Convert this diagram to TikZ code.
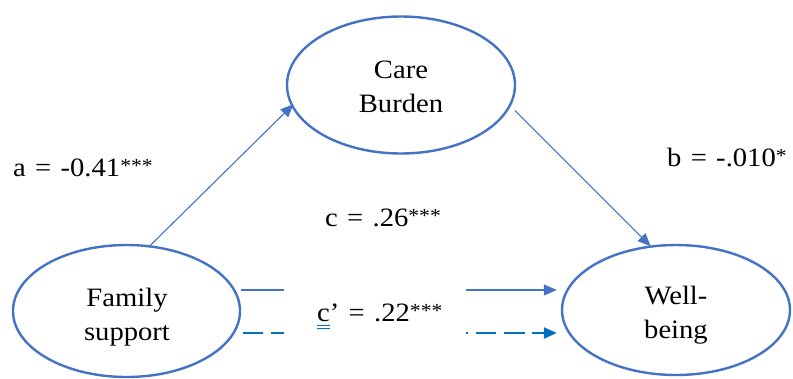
\documentclass[tikz,border=0pt]{standalone}
\usepackage{fontspec}
\setmainfont[FakeStretch=1.08]{Liberation Serif}
\newfontfamily\coeffont[FakeStretch=1.08,WordSpace=1.3]{Liberation Serif}
\usetikzlibrary{shapes.geometric,arrows.meta}
\definecolor{edgeblue}{RGB}{68,114,196}
\definecolor{dashblue}{RGB}{0,112,192}
\newcommand{\stars}[1]{\raisebox{4pt}{\fontsize{20}{20}\selectfont #1}}
\tikzset{
  latent/.style={ellipse, draw=edgeblue, line width=2.4pt, inner sep=0pt},
  latentlabel/.style={align=center, inner sep=0pt, font=\fontsize{26.5}{34}\selectfont},
  pathline/.style={draw=edgeblue, line width=1.1pt},
  tip/.style={-{Triangle[length=13pt,width=11pt]}},
  coef/.style={font=\coeffont\fontsize{26.5}{30}\selectfont, inner sep=0pt, anchor=base west},
  dashedpath/.style={draw=dashblue, line width=2.4pt},
}
\begin{document}
\begin{tikzpicture}[x=1pt,y=-1pt]
\useasboundingbox (0,0) rectangle (793,378);
% latent variables
\node[latent, minimum width=228pt, minimum height=137pt] (care) at (401,85) {};
\node[latent, minimum width=227pt, minimum height=132pt] (fam) at (126.5,311) {};
\node[latent, minimum width=228pt, minimum height=130pt] (well) at (676,310) {};
\node[latentlabel] (careT) at (401,87) {Care\\Burden};
\node[latentlabel] (famT) at (127,317) {Family\\support};
\node[latentlabel] (wellT) at (676,315.5) {Well-\\being};
% indirect effect paths a and b
\draw[pathline, tip, shorten >=-3pt] (fam.70) -- (care.191);
\draw[pathline, tip, shorten <=6pt, shorten >=-1pt] (care.-11) -- (well.112);
% total effect c, broken around its label
\coordinate (cL) at ([yshift=21pt]fam.east);
\coordinate (cR) at ([yshift=20pt,xshift=-4pt]well.west);
\draw[pathline] (cL) -- ++(43,0);
\draw[pathline, tip] ([xshift=-91pt]cR) -- (cR);
% direct effect c', dashed
\coordinate (dL) at ([yshift=-22pt,xshift=2pt]fam.east);
\coordinate (dR) at ([yshift=-23pt,xshift=-4pt]well.west);
\draw[dashedpath, dash pattern=on 20pt off 8pt] (dL) -- ++(41,0);
\draw[dashedpath, dash pattern=on 2pt off 8pt on 20pt off 8pt on 21pt off 7pt on 40pt,
  -{Triangle[length=13pt,width=11pt]}] ([xshift=-91pt]dR) -- (dR);
% path coefficients
\node[coef] (a) at (13,176) {a = -0.41\stars{***}};
\node[coef] (b) at (667,166) {b = -.010\stars{*}};
\node[coef] (c) at (325,226) {c = .26\stars{***}};
\node[coef] (cp) at (317,321) {\makebox[0pt][l]{\textcolor{dashblue}{\rule[-5pt]{12.5pt}{0.9pt}}}\makebox[0pt][l]{\textcolor{dashblue}{\rule[-8pt]{12.5pt}{0.9pt}}}c’ = .22\stars{***}};
\end{tikzpicture}
\end{document}
